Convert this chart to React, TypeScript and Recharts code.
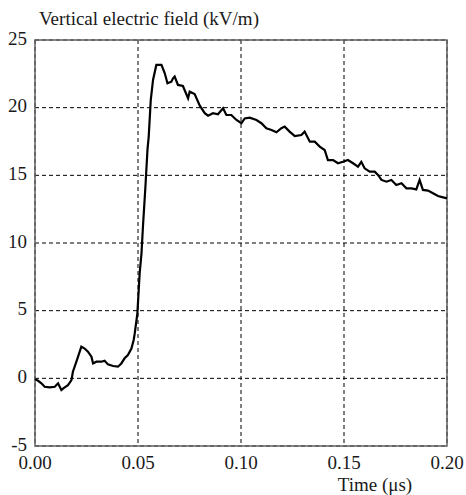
import React from "react";
import { LineChart, Line, XAxis, YAxis, CartesianGrid, ReferenceArea, Label } from "recharts";

const timeUs: number[] = [
  0, 0.0015, 0.0031, 0.0047, 0.0071, 0.0096, 0.0112, 0.0128, 0.0144, 0.016, 0.0177, 0.0184,
  0.0201, 0.0217, 0.0225, 0.0241, 0.0257, 0.0274, 0.0282, 0.0298, 0.0322, 0.0338, 0.0354,
  0.0379, 0.0403, 0.0419, 0.0435, 0.0451, 0.0468, 0.0479, 0.0484, 0.0497, 0.0508, 0.0517,
  0.0524, 0.0536, 0.0546, 0.0552, 0.0562, 0.0573, 0.0589, 0.0605, 0.0614, 0.063, 0.0643,
  0.0662, 0.067, 0.0678, 0.0694, 0.0718, 0.0743, 0.0751, 0.0775, 0.08, 0.0824, 0.084, 0.0864,
  0.0888, 0.0913, 0.0929, 0.0953, 0.0978, 0.1002, 0.1018, 0.1042, 0.1075, 0.1099, 0.1123,
  0.1148, 0.1172, 0.1196, 0.1212, 0.1236, 0.1261, 0.1293, 0.1309, 0.1334, 0.1358, 0.1382,
  0.1406, 0.1422, 0.1447, 0.1471, 0.1495, 0.1519, 0.1544, 0.1568, 0.1584, 0.16, 0.1625,
  0.1649, 0.1665, 0.1682, 0.1706, 0.173, 0.1754, 0.1779, 0.1803, 0.1827, 0.1851, 0.1867,
  0.1883, 0.1908, 0.1932, 0.1956, 0.1981, 0.2,
];

const fieldKVm: number[] = [
  -0.07, -0.18, -0.37, -0.62, -0.67, -0.62, -0.37, -0.86, -0.67, -0.5, -0.13, 0.49,
  1.23, 1.97, 2.34, 2.2, 1.97, 1.6, 1.1, 1.23, 1.23, 1.3, 1.03,
  0.91, 0.86, 1.1, 1.48, 1.72, 2.2, 2.83, 3.3, 4.8, 7.76, 9.24,
  11.2, 14.16, 16.9, 17.86, 20.57, 22.05, 23.16, 23.16, 23.16, 22.54, 21.8,
  21.92, 22.17, 22.3, 21.68, 21.6, 20.7, 21.18, 21.0, 20.15, 19.59, 19.41, 19.59,
  19.51, 19.96, 19.46, 19.46, 19.09, 18.85, 19.2, 19.26, 19.09, 18.85, 18.48,
  18.35, 18.18, 18.48, 18.6, 18.23, 17.9, 17.98, 18.23, 17.49, 17.49, 17.12,
  16.87, 16.13, 16.13, 15.89, 16.0, 16.13, 15.89, 15.64, 16.0, 15.52, 15.27,
  15.27, 15.03, 14.66, 14.53, 14.66, 14.29, 14.41, 14.04, 14.04, 13.96, 14.66,
  13.92, 13.87, 13.67, 13.47, 13.37, 13.3,
];

const xTicks: number[] = [0, 0.05, 0.1, 0.15, 0.2];
const yTicks: number[] = [-5, 0, 5, 10, 15, 20, 25];
const yTitle = "Vertical electric field (kV/m)";
const xTitle = "Time (μs)";

const data = timeUs.map((t, i) => ({ t, v: fieldKVm[i] }));

const FONT = '"Liberation Serif", "Times New Roman", serif';
const textStyle = { fontFamily: FONT };
const xTickStyle = { fontSize: 19, fill: "#1a1a1a", fontFamily: FONT, style: textStyle };
const yTickStyle = { fontSize: 19, fill: "#1a1a1a", fontFamily: FONT, style: textStyle, dy: -2 };

export default function App() {
  return (
    <div style={{ position: "absolute", left: 0, top: 0, width: 466, height: 495, background: "#fff", fontFamily: FONT }}>
      <LineChart width={466} height={495} data={data} margin={{ top: 40, right: 19, bottom: 0, left: 0 }} style={textStyle}>
        <CartesianGrid stroke="#000" strokeDasharray="4 3" strokeWidth={1} />
        <XAxis
          dataKey="t"
          type="number"
          domain={[0, 0.2]}
          ticks={xTicks}
          tickFormatter={(v: number) => v.toFixed(2)}
          axisLine={false}
          tickLine={false}
          tickSize={0}
          tickMargin={10}
          height={49}
          tick={xTickStyle}
          interval={0}
        >
          <Label
            content={(props: any) => {
              const vb = props.viewBox || { x: 35, y: 446, width: 412 };
              return (
                <text x={vb.x + vb.width - 72} y={vb.y + 45} textAnchor="middle" fontSize={19} style={textStyle} fill="#1a1a1a">
                  {xTitle}
                </text>
              );
            }}
          />
        </XAxis>
        <YAxis
          type="number"
          domain={[-5, 25]}
          ticks={yTicks}
          axisLine={false}
          tickLine={false}
          tickSize={0}
          tickMargin={8}
          width={35}
          tick={yTickStyle}
          interval={0}
        >
          <Label
            content={(props: any) => {
              const vb = props.viewBox || { x: 0, y: 40, width: 35 };
              return (
                <text x={vb.x + vb.width + 4} y={vb.y - 15} textAnchor="start" fontSize={19} style={textStyle} fill="#1a1a1a">
                  {yTitle}
                </text>
              );
            }}
          />
        </YAxis>
        <ReferenceArea x1={0} x2={0.2} y1={-5} y2={25} fill="none" stroke="#606060" strokeWidth={1.5} ifOverflow="extendDomain" />
        <Line
          dataKey="v"
          type="linear"
          stroke="#000"
          strokeWidth={2.2}
          dot={false}
          isAnimationActive={false}
        />
      </LineChart>
    </div>
  );
}
